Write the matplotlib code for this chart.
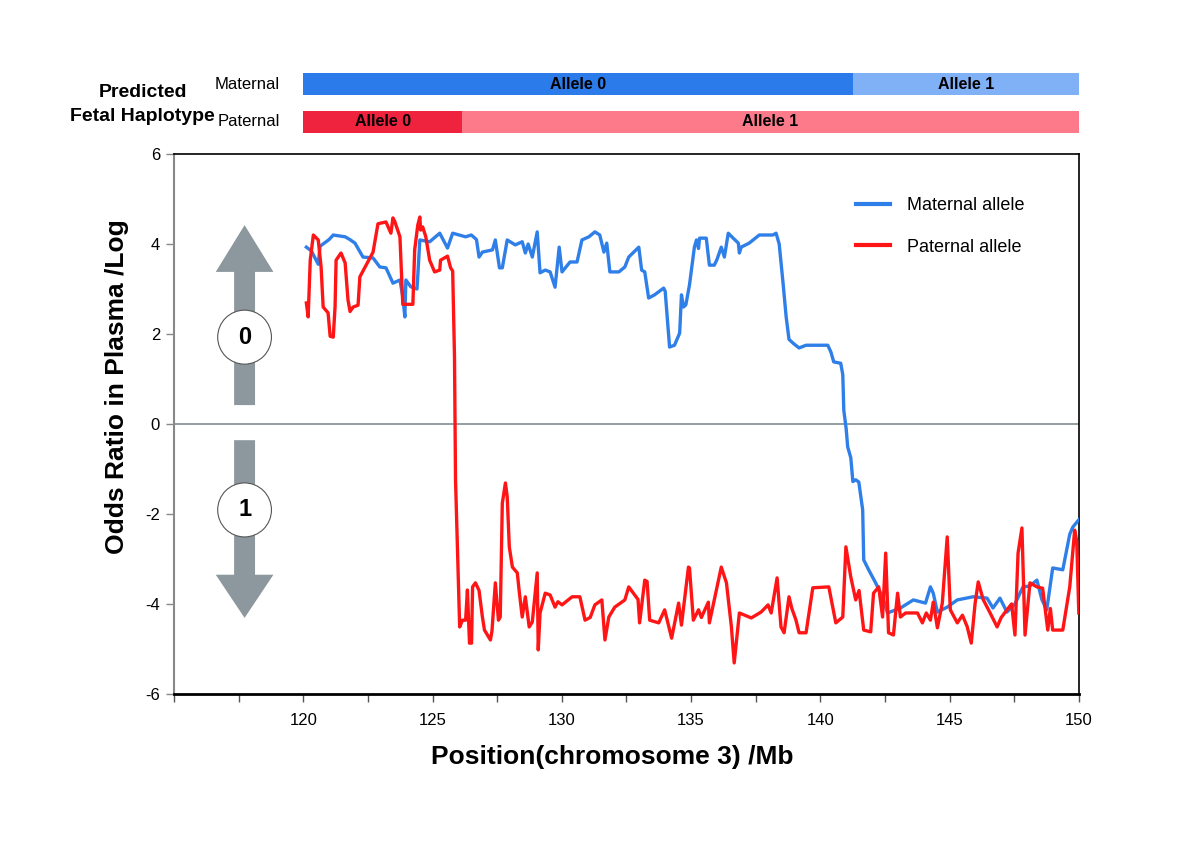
import matplotlib
matplotlib.use("Agg")
from matplotlib import pyplot as plt
from matplotlib.patches import FancyArrow, Ellipse
import numpy as np

plt.rcParams['font.family'] = ['Liberation Sans', 'DejaVu Sans']
plt.rcParams['axes.unicode_minus'] = False

# Maternal allele odds ratio (log) along chromosome 3
maternal_pos = [120.12, 120.31, 120.58, 120.65, 121.0, 121.16, 121.4, 121.62, 121.8, 122.0,
                122.31, 122.70, 122.96, 123.20, 123.47, 123.74, 123.85, 123.93, 123.97, 124.16,
                124.40, 124.51, 124.89, 125.28, 125.58, 125.78, 126.28, 126.5, 126.7, 126.80,
                126.93, 127.32, 127.43, 127.59, 127.70, 127.89, 128.20, 128.47, 128.59, 128.7,
                128.86, 129.05, 129.16, 129.36, 129.55, 129.74, 129.90, 130.01, 130.32, 130.59,
                130.78, 131.05, 131.28, 131.47, 131.63, 131.74, 131.86, 132.21, 132.44, 132.59,
                132.98, 133.09, 133.21, 133.36, 133.59, 133.94, 134.0, 134.17, 134.36, 134.56,
                134.63, 134.71, 134.8, 134.94, 135.13, 135.21, 135.29, 135.33, 135.59, 135.71,
                135.90, 136.0, 136.17, 136.29, 136.44, 136.63, 136.83, 136.87, 136.94, 137.25,
                137.64, 138.17, 138.29, 138.41, 138.56, 138.68, 138.79, 138.98, 139.18, 139.45,
                140.29, 140.41, 140.52, 140.79, 140.87, 140.91, 141.00, 141.06, 141.18, 141.26,
                141.37, 141.49, 141.64, 141.68, 141.87, 142.14, 142.41, 142.60, 143.10, 143.60,
                144.07, 144.26, 144.37, 144.53, 144.91, 145.30, 145.91, 146.45, 146.68, 146.95,
                147.22, 147.53, 147.84, 148.11, 148.38, 148.57, 148.76, 148.99, 149.38, 149.65,
                149.77, 150.0]
maternal_val = [3.93, 3.85, 3.55, 3.95, 4.1, 4.2, 4.18, 4.16, 4.1, 4.02,
                3.71, 3.69, 3.49, 3.47, 3.13, 3.2, 2.83, 2.38, 3.2, 3.05,
                3.0, 4.09, 4.05, 4.24, 3.91, 4.24, 4.16, 4.2, 4.1, 3.71,
                3.82, 3.87, 4.09, 3.47, 3.47, 4.09, 3.98, 4.05, 3.8, 4.0,
                3.71, 4.27, 3.36, 3.42, 3.38, 3.04, 3.93, 3.38, 3.6, 3.6,
                4.09, 4.16, 4.27, 4.2, 3.82, 4.02, 3.38, 3.38, 3.49, 3.71,
                3.93, 3.42, 3.38, 2.8, 2.87, 3.02, 2.95, 1.71, 1.75, 2.02,
                2.87, 2.6, 2.65, 3.09, 3.93, 4.09, 3.9, 4.13, 4.13, 3.53,
                3.53, 3.65, 3.93, 3.71, 4.24, 4.13, 4.02, 3.8, 3.93, 4.02,
                4.2, 4.2, 4.24, 4.0, 3.13, 2.38, 1.88, 1.78, 1.69, 1.75,
                1.75, 1.6, 1.38, 1.35, 1.1, 0.3, -0.1, -0.51, -0.75, -1.28,
                -1.24, -1.29, -1.91, -3.02, -3.24, -3.53, -3.84, -4.2, -4.09, -3.91,
                -3.98, -3.62, -3.76, -4.18, -4.07, -3.91, -3.84, -3.87, -4.09, -3.87,
                -4.18, -4.0, -3.62, -3.6, -3.47, -3.9, -4.13, -3.2, -3.24, -2.45,
                -2.29, -2.13]

# Paternal allele odds ratio (log)
paternal_pos = [120.12, 120.19, 120.27, 120.39, 120.58, 120.69, 120.77, 120.96, 121.04, 121.16,
                121.23, 121.27, 121.46, 121.62, 121.73, 121.81, 121.93, 122.12, 122.19, 122.70,
                122.89, 123.20, 123.39, 123.47, 123.54, 123.74, 123.85, 124.24, 124.31, 124.43,
                124.51, 124.54, 124.62, 124.74, 124.89, 125.08, 125.28, 125.31, 125.58, 125.70,
                125.78, 125.85, 125.89, 126.05, 126.16, 126.28, 126.35, 126.43, 126.51, 126.55,
                126.66, 126.8, 126.93, 127.01, 127.24, 127.3, 127.43, 127.55, 127.62, 127.70,
                127.82, 127.89, 127.97, 128.09, 128.28, 128.35, 128.47, 128.59, 128.74, 128.86,
                129.05, 129.09, 129.16, 129.36, 129.55, 129.74, 129.85, 130.01, 130.40, 130.70,
                130.90, 131.1, 131.28, 131.55, 131.67, 131.82, 132.05, 132.44, 132.59, 132.82,
                132.95, 133.01, 133.21, 133.3, 133.40, 133.75, 133.98, 134.25, 134.52, 134.63,
                134.90, 134.94, 135.09, 135.29, 135.4, 135.67, 135.71, 136.17, 136.37, 136.56,
                136.67, 136.87, 137.33, 137.71, 137.98, 138.1, 138.33, 138.48, 138.60, 138.79,
                138.9, 139.06, 139.18, 139.45, 139.71, 140.33, 140.60, 140.87, 140.99, 141.18,
                141.37, 141.5, 141.68, 141.95, 142.06, 142.26, 142.41, 142.53, 142.64, 142.83,
                142.99, 143.10, 143.3, 143.76, 143.95, 144.1, 144.26, 144.37, 144.53, 144.72,
                144.91, 145.03, 145.30, 145.5, 145.68, 145.84, 145.99, 146.11, 146.30, 146.57,
                146.84, 147.0, 147.22, 147.4, 147.53, 147.65, 147.80, 147.92, 148.11, 148.38,
                148.6, 148.80, 148.9, 148.99, 149.38, 149.65, 149.84, 149.92, 150.0]
paternal_val = [2.69, 2.38, 3.64, 4.2, 4.09, 3.49, 2.6, 2.47, 1.95, 1.93,
                2.6, 3.64, 3.8, 3.58, 2.76, 2.5, 2.6, 2.64, 3.27, 3.82,
                4.45, 4.49, 4.24, 4.58, 4.5, 4.16, 2.66, 2.66, 3.87, 4.42,
                4.6, 4.31, 4.38, 4.16, 3.64, 3.38, 3.42, 3.64, 3.73, 3.47,
                3.4, 1.5, -1.24, -4.51, -4.36, -4.36, -3.69, -4.87, -4.87, -3.62,
                -3.53, -3.7, -4.29, -4.58, -4.8, -4.6, -3.53, -4.36, -4.29, -1.76,
                -1.31, -1.62, -2.73, -3.18, -3.31, -3.7, -4.29, -3.84, -4.51, -4.4,
                -3.31, -5.02, -4.2, -3.76, -3.8, -4.07, -3.95, -4.02, -3.84, -3.84,
                -4.36, -4.3, -4.02, -3.91, -4.8, -4.29, -4.07, -3.91, -3.62, -3.8,
                -3.9, -4.42, -3.47, -3.5, -4.36, -4.42, -4.13, -4.76, -3.98, -4.47,
                -3.18, -3.2, -4.36, -4.13, -4.3, -3.96, -4.42, -3.18, -3.53, -4.5,
                -5.31, -4.2, -4.31, -4.18, -4.02, -4.2, -3.42, -4.51, -4.64, -3.84,
                -4.1, -4.36, -4.64, -4.64, -3.64, -3.62, -4.42, -4.29, -2.73, -3.4,
                -3.91, -3.7, -4.58, -4.62, -3.76, -3.62, -4.29, -2.87, -4.64, -4.69,
                -3.76, -4.29, -4.2, -4.2, -4.42, -4.2, -4.36, -3.96, -4.53, -3.98,
                -2.51, -4.13, -4.42, -4.25, -4.5, -4.87, -3.98, -3.51, -3.9, -4.2,
                -4.51, -4.3, -4.13, -4.0, -4.69, -2.87, -2.31, -4.69, -3.53, -3.62,
                -3.65, -4.58, -4.1, -4.58, -4.58, -3.62, -2.36, -2.6, -4.2]

# Predicted fetal haplotype blocks (start, end in Mb)
maternal_blocks = [(120.0, 141.25, 'Allele 0'), (141.25, 150.0, 'Allele 1')]
paternal_blocks = [(120.0, 126.15, 'Allele 0'), (126.15, 150.0, 'Allele 1')]

xticks = np.arange(115, 150.1, 2.5)
xtick_labels = [str(int(t)) if (t >= 120 and t % 5 == 0) else '' for t in xticks]
yticks = [-6, -4, -2, 0, 2, 4, 6]

blue = '#2f7fe8'
red = '#ff1515'
arrow_gray = '#8c989d'

fig = plt.figure(figsize=(12, 8.49), dpi=100)
ax = fig.add_axes([0.145, 0.1826, 0.754, 0.636])

ax.plot(maternal_pos, maternal_val, color=blue, lw=2.4, label='Maternal allele', zorder=3)
ax.plot(paternal_pos, paternal_val, color=red, lw=2.4, label='Paternal allele', zorder=4)
ax.axhline(0, color='#8a969b', lw=1.3, zorder=1)

ax.set_xlim(115, 150)
ax.set_ylim(-6, 6)
ax.set_xticks(xticks)
ax.set_xticklabels(xtick_labels, fontsize=12)
ax.set_yticks(yticks)
ax.set_yticklabels([str(t) for t in yticks], fontsize=12)
ax.tick_params(axis='x', direction='out', length=6, width=1, colors='#555555', labelcolor='black', pad=8)
ax.tick_params(axis='y', direction='out', length=6, width=1, colors='#888888', labelcolor='black', pad=4)

for side in ['top', 'right']:
    ax.spines[side].set_color('black')
    ax.spines[side].set_linewidth(1.2)
ax.spines['bottom'].set_color('black')
ax.spines['bottom'].set_linewidth(2)
ax.spines['left'].set_color('#888888')
ax.spines['left'].set_linewidth(1.5)

ax.set_xlabel('Position(chromosome 3) /Mb', fontsize=19, fontweight='bold')
ax.xaxis.set_label_coords(0.484, -0.095)
ax.set_ylabel('Odds Ratio in Plasma /Log', fontsize=19, fontweight='bold')
ax.yaxis.set_label_coords(-0.05, 0.57)

# arrows with allele circles
ax.add_patch(FancyArrow(117.73, 0.42, 0, 4.0, width=0.81, head_width=2.23, head_length=1.04,
                        length_includes_head=True, color=arrow_gray, lw=0, zorder=2))
ax.add_patch(FancyArrow(117.73, -0.36, 0, -3.95, width=0.81, head_width=2.23, head_length=0.96,
                        length_includes_head=True, color=arrow_gray, lw=0, zorder=2))
for cy, txt in [(1.93, '0'), (-1.91, '1')]:
    ax.add_patch(Ellipse((117.73, cy), 2.08, 1.2, facecolor='white', edgecolor='#555555', lw=0.8, zorder=5))
    ax.text(117.73, cy, txt, ha='center', va='center', fontsize=17, fontweight='bold', zorder=6)

leg = ax.legend(loc='upper left', bbox_to_anchor=(0.736, 0.95), frameon=False, fontsize=13,
                handlelength=1.9, labelspacing=1.35, handletextpad=0.9)
for line in leg.get_lines():
    line.set_linewidth(3)

# haplotype bars
hax = fig.add_axes([0.145, 0.8398, 0.754, 0.0777])
hax.set_xlim(115, 150)
hax.set_ylim(-0.37, 1.37)
hax.axis('off')
mat_colors = ['#2b7bea', '#80b0f6']
pat_colors = ['#f0233f', '#fd7a8a']
for (start, end, lab), c in zip(maternal_blocks, mat_colors):
    hax.barh(1, end - start, left=start, height=0.58, color=c)
    hax.text((start + end) / 2, 1, lab, ha='center', va='center', fontsize=11.5, fontweight='bold')
for (start, end, lab), c in zip(paternal_blocks, pat_colors):
    hax.barh(0, end - start, left=start, height=0.58, color=c)
    hax.text((start + end) / 2, 0, lab, ha='center', va='center', fontsize=11.5, fontweight='bold')
hax.text(119.1, 1, 'Maternal', ha='right', va='center', fontsize=12)
hax.text(119.1, 0, 'Paternal', ha='right', va='center', fontsize=12)

fig.text(0.119, 0.877, 'Predicted\nFetal Haplotype', ha='center', va='center', fontsize=14,
         fontweight='bold', linespacing=1.55)

plt.savefig('out.png', dpi=100)
